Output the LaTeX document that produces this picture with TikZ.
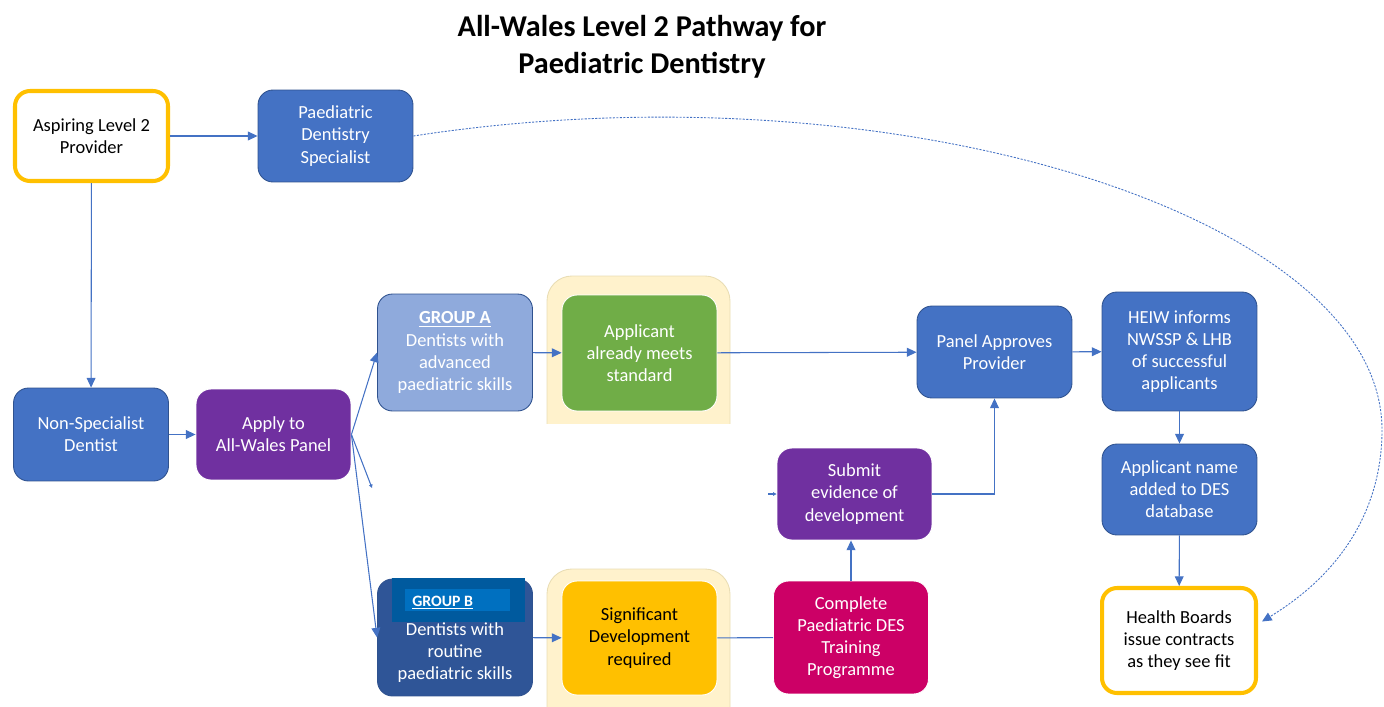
\documentclass[tikz,border=0pt]{standalone}
\usepackage{fontspec}
\setmainfont{Carlito}
\usepackage{tikz}
\usetikzlibrary{arrows.meta}

\definecolor{boxblue}{HTML}{4472C4}
\definecolor{boxedge}{HTML}{2F528F}
\definecolor{lightblue}{HTML}{8FAADC}
\definecolor{darkblue}{HTML}{2F5597}
\definecolor{boxpurple}{HTML}{7030A0}
\definecolor{boxgreen}{HTML}{70AD47}
\definecolor{boxgold}{HTML}{FFC000}
\definecolor{boxcrimson}{HTML}{CC0066}
\definecolor{panelbg}{HTML}{FFF2CC}
\definecolor{paneledge}{HTML}{E9DDB4}
\definecolor{tagouter}{HTML}{005A9E}
\definecolor{taginner}{HTML}{0070C0}

\tikzset{
	box/.style={rounded corners=0.3cm, minimum width=3.1cm, align=center, inner sep=2pt,
		text=white, line width=0.5pt, font=\fontsize{10.5}{12.6}\selectfont},
	bluebox/.style={box, fill=boxblue, draw=boxedge},
	lightbox/.style={box, fill=lightblue, draw=boxedge},
	darkbox/.style={box, fill=darkblue, draw=boxedge},
	purplebox/.style={box, fill=boxpurple, draw=white},
	greenbox/.style={box, fill=boxgreen, draw=white},
	crimsonbox/.style={box, fill=boxcrimson, draw=white},
	goldbox/.style={box, fill=boxgold, draw=white, text=black},
	whitebox/.style={box, fill=white, draw=boxgold, line width=2.3pt, text=black},
	panel/.style={fill=panelbg, draw=paneledge, line width=0.5pt, rounded corners=0.5cm},
	line/.style={draw=boxblue, line width=0.6pt},
	link/.style={line, -{Triangle[length=5.5pt,width=5pt]}},
	tinylink/.style={line, -{Triangle[length=2pt,width=2pt]}},
	dashlink/.style={draw=boxblue, line width=0.5pt, dash pattern=on 1.2pt off 0.8pt,
		-{Triangle[length=5.5pt,width=5pt]}},
}

\begin{document}
\begin{tikzpicture}[x=0.02cm, y=-0.02cm]
	\useasboundingbox (0,0) rectangle (1384,707);

	\node[align=center, font=\fontsize{17.2}{21}\selectfont\bfseries] (title) at (642,47)
		{All-Wales Level 2 Pathway for\\Paediatric Dentistry};

	% yellow panels behind the middle column
	\begin{scope}
		\clip (540,270) rectangle (740,423);
		\filldraw[panel] (547,276) rectangle (730,480);
	\end{scope}
	\begin{scope}
		\clip (540,560) rectangle (740,707);
		\filldraw[panel] (547,569) rectangle (730,760);
	\end{scope}

	\node[whitebox, minimum width=3.06cm, minimum height=1.8cm] (aspiring) at (91.5,136) {Aspiring Level 2\\Provider};
	\node[bluebox, minimum height=1.84cm] (specialist) at (335.5,136) {Paediatric\\Dentistry\\Specialist};
	\node[bluebox, minimum height=1.86cm] (nonspec) at (91,434.5) {Non-Specialist\\Dentist};
	\node[purplebox, minimum height=1.82cm] (apply) at (273.5,434.5) {Apply to\\All-Wales Panel};
	\node[lightbox, minimum height=2.34cm] (groupA) at (455,352.5) {\underline{\textbf{GROUP A}}\\Dentists with\\advanced\\paediatric skills};
	\node[greenbox, minimum height=2.32cm] (meets) at (639.5,353) {Applicant\\already meets\\standard};
	\node[bluebox, minimum height=1.84cm] (approves) at (994.5,352) {Panel Approves\\Provider};
	\node[bluebox, minimum height=2.38cm] (informs) at (1179.5,351.5) {HEIW informs\\NWSSP \& LHB\\of successful\\applicants};
	\node[bluebox, minimum height=1.82cm] (database) at (1179.5,489.5) {Applicant name\\added to DES\\database};
	\node[whitebox, minimum width=3.08cm, minimum height=2.1cm] (contracts) at (1179,640.5) {Health Boards\\issue contracts\\as they see fit};
	\node[purplebox, minimum height=1.84cm] (evidence) at (854.5,494) {Submit\\evidence of\\development};
	\node[crimsonbox, minimum height=2.26cm] (training) at (851,637.5) {Complete\\Paediatric DES\\Training\\Programme};
	\node[darkbox, minimum height=2.34cm] (groupB) at (455,637.5) {\phantom{GROUP B}\\[5pt]Dentists with\\routine\\paediatric skills};
	\node[goldbox, minimum height=2.28cm] (development) at (639.5,638) {Significant\\Development\\required};

	% tag over group B
	\node[fill=tagouter, minimum width=2.66cm, minimum height=0.88cm, inner sep=0] (tagB) at (458.5,600) {};
	\node[fill=taginner, minimum width=2.1cm, minimum height=0.44cm, inner sep=0] (tagBin) at (457.5,600) {};
	\node[anchor=base west, inner sep=0, text=white, font=\fontsize{9}{11}\selectfont\bfseries] (tagBtext) at (412,606) {\underline{GROUP B}};

	\coordinate (stubA) at (372,488);
	\coordinate (stubB) at (768,494);

	\draw[link] (aspiring) -- (specialist);
	\draw[link] (aspiring) -- (nonspec);
	\draw[link] (nonspec) -- (apply);
	\draw[link] (apply.east) -- (groupA.west);
	\draw[tinylink] (apply.east) -- (stubA);
	\draw[link] (apply.east) -- (groupB.west);
	\draw[link] (groupA) -- (meets);
	\draw[link] (meets) -- (approves);
	\draw[link] (approves) -- (informs);
	\draw[link] (informs) -- (database);
	\draw[link] (database) -- (contracts);
	\draw[link] (groupB) -- (development);
	\draw[line] (development) -- (training);
	\draw[link] (training.north) -- (training.north |- evidence.south);
	\draw[tinylink] (stubB) -- (evidence.west);
	\draw[link] (evidence.east) -| (approves.south);
	\draw[dashlink] (specialist.east) .. controls (892,62) and (1382,215) .. (1382,430)
		.. controls (1382,496) and (1353,566) .. ([xshift=0.08cm,yshift=0.38cm]contracts.east);
\end{tikzpicture}
\end{document}
